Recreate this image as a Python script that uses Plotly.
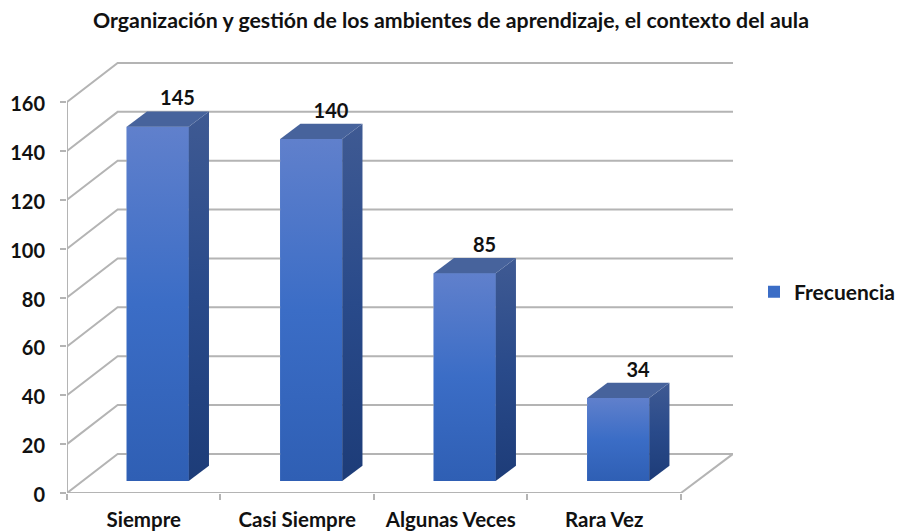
import plotly.graph_objects as go

title = "Organización y gestión de los ambientes de aprendizaje, el contexto del aula"
categories = ["Siempre", "Casi Siempre", "Algunas Veces", "Rara Vez"]
values = [145, 140, 85, 34]
series_name = "Frecuencia"
y_ticks = [0, 20, 40, 60, 80, 100, 120, 140, 160]

# Pseudo-3D geometry, expressed in axis units
N = len(categories)
WALL_DX, WALL_DY = 0.33, 16.0     # depth of the chart box
BAR_DX, BAR_DY = 0.132, 6.26      # depth of a bar
BAR_W, BAR_SHIFT = 0.404, 0.091   # width and shift from category centre
BAR_BASE = 4.9                    # height of bar foot above the front floor edge
XMAX, YMAX = 4.339, 176.4
LINE = "#b4b4b4"
FONT = "Lato"
INK = "#111111"

fig = go.Figure()


def line_trace(xs, ys, color=LINE, width=2):
    fig.add_trace(go.Scatter(x=xs, y=ys, mode="lines", showlegend=False, hoverinfo="skip",
                             line=dict(color=color, width=width)))


def face(xs, ys, stops):
    fig.add_trace(go.Scatter(x=xs, y=ys, mode="lines", fill="toself", showlegend=False,
                             hoverinfo="skip", line=dict(width=0),
                             fillgradient=dict(type="vertical", colorscale=stops)))


# wall grid
gx, gy = [], []
for t in y_ticks:
    gx += [0, WALL_DX, XMAX, None]
    gy += [t, t + WALL_DY, t + WALL_DY, None]
line_trace(gx, gy)
# floor right edge, front floor edge and value axis
line_trace([N, XMAX], [0, WALL_DY])
line_trace([0, N], [0, 0])
line_trace([0, 0], [0, y_ticks[-1]])

# flat bars (carry the data and legend entry)
centers = [i + 0.5 + BAR_SHIFT for i in range(N)]
fig.add_trace(go.Bar(x=centers, y=values, base=BAR_BASE, width=BAR_W, name=series_name,
                     marker=dict(color="#3b6dc6", line=dict(width=0)), hoverinfo="skip"))

FRONT = [[0, "#2f5fb4"], [0.5, "#3b6dc6"], [1, "#6080cc"]]
SIDE = [[0, "#1d3c78"], [0.5, "#294a8a"], [1, "#3f5a93"]]
TOP = [[0, "#47639c"], [1, "#47639c"]]

for c, v in zip(centers, values):
    l, r = c - BAR_W / 2, c + BAR_W / 2
    b, t = BAR_BASE, BAR_BASE + v
    face([l, r, r, l, l], [b, b, t, t, b], FRONT)
    face([r, r + BAR_DX, r + BAR_DX, r, r], [b, b + BAR_DY, t + BAR_DY, t, b], SIDE)
    face([l, r, r + BAR_DX, l + BAR_DX, l], [t, t, t + BAR_DY, t + BAR_DY, t], TOP)

# data labels
fig.add_trace(go.Scatter(x=[i + 0.5 + 0.22 for i in range(N)], y=[v + 15.7 for v in values],
                         mode="text", text=[str(v) for v in values], showlegend=False, hoverinfo="skip",
                         textposition="middle center",
                         textfont=dict(family=FONT, size=20, color=INK, weight="bold")))

fig.update_layout(
    width=899, height=531, autosize=False,
    margin=dict(l=67, r=166, t=62, b=38, autoexpand=False),
    paper_bgcolor="white", plot_bgcolor="white",
    title=dict(text=title, x=451 / 899, xanchor="center", y=1 - 21 / 531, yanchor="middle",
               font=dict(family=FONT, size=21.3, color=INK, weight="bold")),
    legend=dict(x=(754 - 67) / 666, xref="paper", y=(493 - 292) / 431, yref="paper",
                xanchor="left", yanchor="middle",
                font=dict(family=FONT, size=21, color=INK, weight="bold"),
                bgcolor="rgba(0,0,0,0)", itemwidth=30),
    xaxis=dict(range=[0, XMAX], showgrid=False, zeroline=False, showline=False, automargin=False,
               tickmode="array", tickvals=[i + 0.5 for i in range(N)], ticktext=categories,
               ticks="", ticklabelstandoff=12,
               tickfont=dict(family=FONT, size=20.5, color=INK, weight="bold"),
               minor=dict(tickmode="array", tickvals=list(range(N + 1)), ticks="outside",
                          ticklen=6, tickwidth=2, tickcolor=LINE, showgrid=False)),
    yaxis=dict(range=[0, YMAX], showgrid=False, zeroline=False, showline=False, automargin=False,
               tickmode="array", tickvals=y_ticks, ticks="outside", ticklen=6, tickwidth=2,
               tickcolor=LINE, ticklabelstandoff=11, ticklabelshift=2,
               tickfont=dict(family=FONT, size=20, color=INK, weight="bold")),
)

fig.write_html("out.html", config={"displayModeBar": False},
               post_script="document.body.style.margin='0';document.body.style.overflow='hidden';")
